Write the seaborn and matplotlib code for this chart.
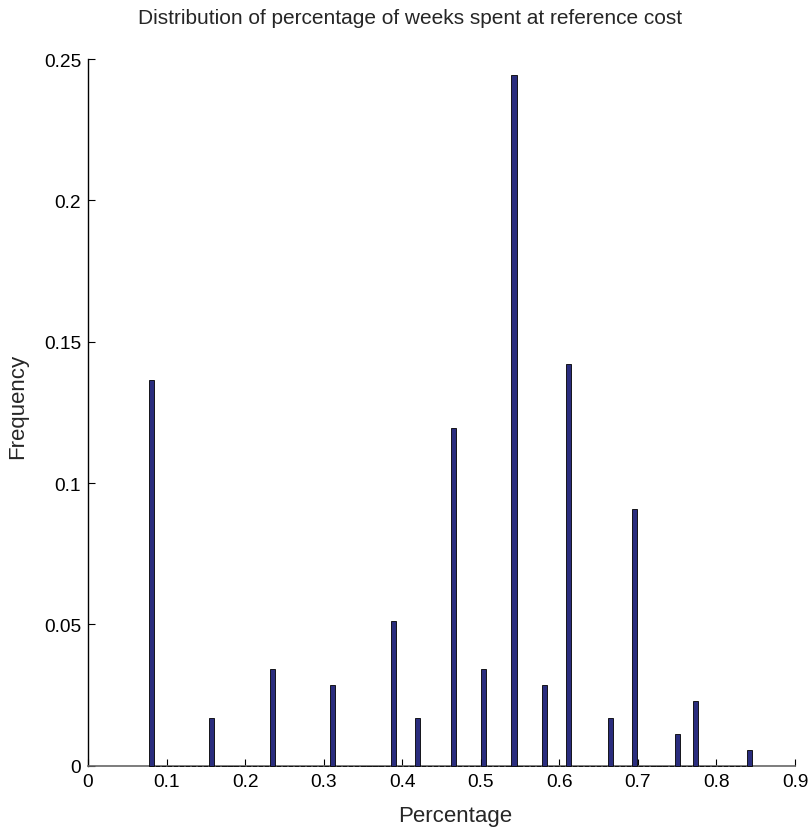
import numpy as np
import pandas as pd
import seaborn as sns
import matplotlib.pyplot as plt

# share of weeks spent at reference cost, and how many series had that share
percentages = [0.07692, 0.15385, 0.23077, 0.30769, 0.38462, 0.41667, 0.46154, 0.5,
               0.53846, 0.58333, 0.61538, 0.66667, 0.69231, 0.75, 0.76923, 0.84615]
counts = [24, 3, 6, 5, 9, 3, 21, 6, 43, 5, 25, 3, 16, 2, 4, 1]

x_ticks = [0, 0.1, 0.2, 0.3, 0.4, 0.5, 0.6, 0.7, 0.8, 0.9]
x_ticklabels = ['0', '0.1', '0.2', '0.3', '0.4', '0.5', '0.6', '0.7', '0.8', '0.9']
y_ticks = [0, 0.05, 0.1, 0.15, 0.2, 0.25]
y_ticklabels = ['0', '0.05', '0.1', '0.15', '0.2', '0.25']

sns.set_style('white')
plt.rcParams['font.family'] = ['Liberation Sans', 'DejaVu Sans']

data = pd.DataFrame({'pct': percentages, 'n': counts})

fig = plt.figure(figsize=(8.12, 8.28), dpi=100)
ax = fig.add_axes([0.1084, 0.074, 0.8706, 0.8535])

sns.histplot(data=data, x='pct', weights='n', stat='probability', bins=100,
             binrange=(min(percentages), max(percentages)), shrink=0.85,
             color='#2A2D7E', alpha=1, edgecolor='black', linewidth=0.6, ax=ax)
# bars (also the empty bins) sit on top of the grey axis line, as in matlab
for p in ax.patches:
    p.set_zorder(3)
    p.set_clip_on(False)

ax.set_xlim(0, 0.9)
ax.set_ylim(0, 0.25)
ax.set_xticks(x_ticks)
ax.set_xticklabels(x_ticklabels)
ax.set_yticks(y_ticks)
ax.set_yticklabels(y_ticklabels)
ax.tick_params(bottom=True, left=True, direction='in', length=5, width=0.8,
               colors='black', labelsize=13.8, pad=5)

sns.despine(ax=ax)
ax.spines['left'].set_color('black')
ax.spines['left'].set_linewidth(1.0)
ax.spines['bottom'].set_color('#666666')
ax.spines['bottom'].set_linewidth(1.2)

ax.set_xlabel('')
ax.set_ylabel('')
fig.text(455 / 812, 1 - 817 / 828, 'Percentage', fontsize=16, ha='center', va='center')
fig.text(17.5 / 812, 1 - 406.5 / 828, 'Frequency', fontsize=16, rotation=90,
         ha='center', va='center')
fig.text(410 / 812, 1 - 18 / 828, 'Distribution of percentage of weeks spent at reference cost',
         fontsize=15, ha='center', va='center')

fig.savefig('out.png', dpi=100)
